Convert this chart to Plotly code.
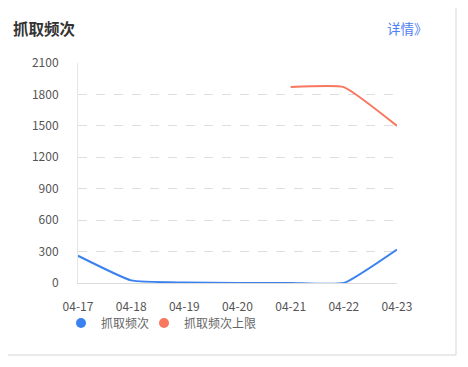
import plotly.graph_objects as go

dates = ["04-17", "04-18", "04-19", "04-20", "04-21", "04-22", "04-23"]
crawl_freq = [260, 25, 5, 0, 0, 0, 320]
crawl_limit = [None, None, None, None, 1870, 1870, 1500]
y_ticks = [0, 300, 600, 900, 1200, 1500, 1800, 2100]

BLUE = "#3b82f0"
RED = "#f7775f"
FONT = "Noto Sans CJK SC, Microsoft YaHei, sans-serif"

W, H = 460, 359
L, T, R, B = 70, 55, 71, 84
PW, PH = W - L - R, H - T - B


def px(x):
    return (x - L) / PW


def py(y):
    return (H - B - y) / PH


fig = go.Figure()
fig.add_trace(go.Scatter(x=dates, y=crawl_freq, mode="lines", name="抓取频次",
                         line=dict(color=BLUE, width=2, shape="spline", smoothing=0.4),
                         showlegend=False))
fig.add_trace(go.Scatter(x=dates, y=crawl_limit, mode="lines", name="抓取频次上限",
                         line=dict(color=RED, width=2, shape="spline", smoothing=0.4),
                         showlegend=False, connectgaps=False))
# legend entries (circle icons)
fig.add_trace(go.Scatter(x=[None], y=[None], mode="markers", name="抓取频次",
                         marker=dict(color=BLUE, size=10, symbol="circle"),
                         legend="legend"))
fig.add_trace(go.Scatter(x=[None], y=[None], mode="markers", name="抓取频次上限",
                         marker=dict(color=RED, size=10, symbol="circle"),
                         legend="legend2"))

leg_common = dict(orientation="h", yanchor="middle", xanchor="left",
                  font=dict(size=12, color="#666"), itemwidth=30,
                  bgcolor="rgba(0,0,0,0)")

fig.update_layout(
    width=W, height=H,
    margin=dict(l=L, r=R, t=T, b=B),
    paper_bgcolor="white", plot_bgcolor="white",
    font=dict(family=FONT, size=12, color="#666"),
    xaxis=dict(type="category", range=[0, 6], showgrid=False,
               showline=True, linecolor="#dcdcdc", linewidth=1,
               ticks="", tickfont=dict(size=12, color="#555"), ticklabelstandoff=13,
               zeroline=False, fixedrange=True),
    yaxis=dict(range=[0, 2100], tickvals=y_ticks, showgrid=True,
               gridcolor="#dedede", griddash="dash", gridwidth=1,
               showline=True, linecolor="#e6e6e6", linewidth=1,
               zeroline=False, ticks="", tickfont=dict(size=12, color="#555"),
               ticklabelstandoff=16, fixedrange=True),
    legend=dict(x=px(53), y=py(315), **leg_common),
    legend2=dict(x=px(136), y=py(315), **leg_common),
    showlegend=True,
    annotations=[
        dict(text="<b>抓取频次</b>", xref="paper", yref="paper", x=px(3), y=py(20),
             xanchor="left", yanchor="middle", showarrow=False,
             font=dict(family=FONT, size=15.5, color="#333")),
        dict(text="详情》", xref="paper", yref="paper", x=px(422), y=py(20),
             xanchor="right", yanchor="middle", showarrow=False,
             font=dict(family=FONT, size=13.5, color="#4d7ff5")),
    ],
    shapes=[
        dict(type="line", xref="paper", yref="paper", x0=px(448), x1=px(448),
             y0=py(0), y1=py(347), line=dict(color="#e3e3e3", width=1.5)),
        dict(type="line", xref="paper", yref="paper", x0=px(-10), x1=px(448),
             y0=py(347), y1=py(347), line=dict(color="#e3e3e3", width=1.5)),
    ],
)

fig.write_html("out.html")
